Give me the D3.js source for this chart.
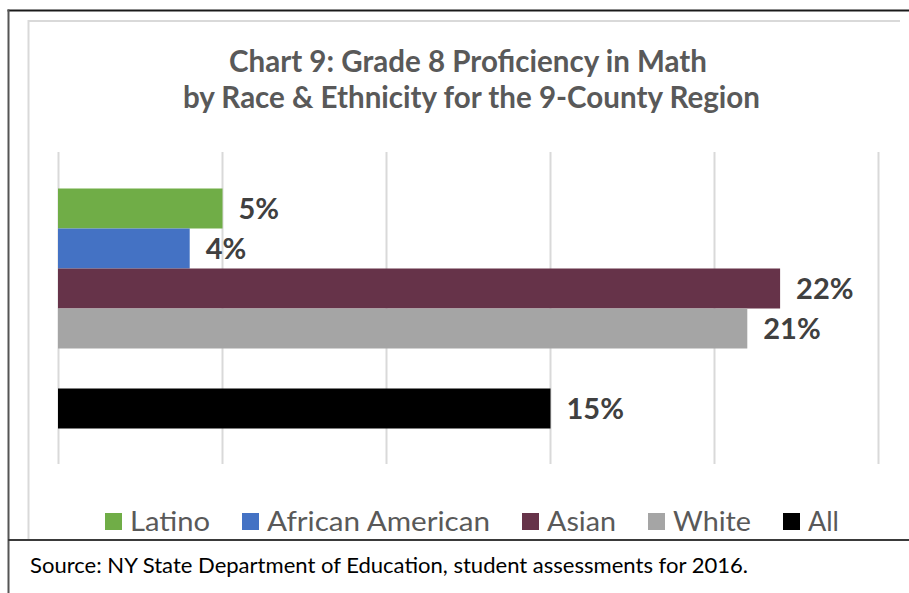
<!DOCTYPE html>
<html>
<head>
<meta charset="utf-8">
<script src="https://cdn.jsdelivr.net/npm/d3@7"></script>
<style>
  html, body { margin: 0; padding: 0; background: #ffffff; }
  svg { display: block; }
</style>
</head>
<body>
<svg id="chart" width="909" height="593"></svg>
<script>
// ---- data ----
const categories = ["Latino", "African American", "Asian", "White", "All"];
const values = [5, 4, 22, 21, 15];
const valueLabels = ["5%", "4%", "22%", "21%", "15%"];
const colors = ["#70ad47", "#4472c4", "#663349", "#a5a5a5", "#000000"];
const xTicks = [0, 5, 10, 15, 20, 25];
const titleLines = ["Chart 9: Grade 8 Proficiency in Math", "by Race & Ethnicity for the 9-County Region"];
const sourceText = "Source: NY State Department of Education, student assessments for 2016.";

// ---- layout ----
const svg = d3.select("#chart");
const font = "Lato, 'Open Sans', sans-serif";

// frame lines
svg.append("line").attr("x1", 7.5).attr("x2", 909).attr("y1", 10.5).attr("y2", 10.5)
  .attr("stroke", "#1a1a1a").attr("stroke-width", 2);
svg.append("line").attr("x1", 8.5).attr("x2", 8.5).attr("y1", 9.5).attr("y2", 593)
  .attr("stroke", "#555555").attr("stroke-width", 2);
svg.append("line").attr("x1", 28).attr("x2", 900).attr("y1", 21).attr("y2", 21)
  .attr("stroke", "#d9d9d9").attr("stroke-width", 2);
svg.append("line").attr("x1", 28.5).attr("x2", 28.5).attr("y1", 20).attr("y2", 539)
  .attr("stroke", "#d9d9d9").attr("stroke-width", 2);
svg.append("line").attr("x1", 8).attr("x2", 909).attr("y1", 540).attr("y2", 540)
  .attr("stroke", "#3a3a3a").attr("stroke-width", 2);

// scales
const x = d3.scaleLinear().domain([0, 25]).range([58.5, 878.5]);
const slots = categories.slice(0, 4).concat(["__gap__"], categories.slice(4));
const y = d3.scaleBand().domain(slots).range([152.5, 464.5]).paddingInner(0).paddingOuter(0.9);

// gridlines
svg.append("g").selectAll("line").data(xTicks).join("line")
  .attr("x1", d => x(d)).attr("x2", d => x(d))
  .attr("y1", 152).attr("y2", 464)
  .attr("stroke", "#d9d9d9").attr("stroke-width", 2);

// bars
const rows = categories.map((c, i) => ({ c, v: values[i], label: valueLabels[i], color: colors[i] }));
svg.append("g").selectAll("rect").data(rows).join("rect")
  .attr("x", x(0) - 0.5)
  .attr("y", d => y(d.c))
  .attr("width", d => x(d.v) - x(0) + 0.5)
  .attr("height", y.bandwidth())
  .attr("fill", d => d.color);

// value labels
svg.append("g").selectAll("text").data(rows).join("text")
  .attr("x", d => x(d.v) + 16)
  .attr("y", d => y(d.c) + y.bandwidth() / 2 + 10.5)
  .attr("font-family", font).attr("font-weight", 700).attr("font-size", 29)
  .attr("fill", "#404040")
  .text(d => d.label);

// title
const titleWidths = [478, 577];
const titleCenters = [468, 471.5];
const titleBaselines = [71.5, 107.5];
svg.append("g").selectAll("text").data(titleLines).join("text")
  .attr("x", (d, i) => titleCenters[i])
  .attr("y", (d, i) => titleBaselines[i])
  .attr("text-anchor", "middle")
  .attr("font-family", font).attr("font-weight", 700).attr("font-size", 29.5)
  .attr("fill", "#595959")
  .attr("textLength", (d, i) => titleWidths[i])
  .attr("lengthAdjust", "spacingAndGlyphs")
  .text(d => d);

// legend
const legendTextWidths = [80, 223, 69, 78, 31];
let lx = 105;
const legend = svg.append("g");
categories.forEach((c, i) => {
  legend.append("rect").attr("x", lx).attr("y", 513).attr("width", 17).attr("height", 17)
    .attr("fill", colors[i]);
  legend.append("text").attr("x", lx + 25).attr("y", 530.5)
    .attr("font-family", font).attr("font-size", 26).attr("fill", "#595959")
    .attr("textLength", legendTextWidths[i]).attr("lengthAdjust", "spacingAndGlyphs")
    .text(c);
  lx += 25 + legendTextWidths[i] + 32;
});

// source
svg.append("text").attr("x", 30).attr("y", 573)
  .attr("font-family", font).attr("font-size", 21.5).attr("fill", "#000000")
  .attr("textLength", 718).attr("lengthAdjust", "spacingAndGlyphs")
  .text(sourceText);
</script>
</body>
</html>
